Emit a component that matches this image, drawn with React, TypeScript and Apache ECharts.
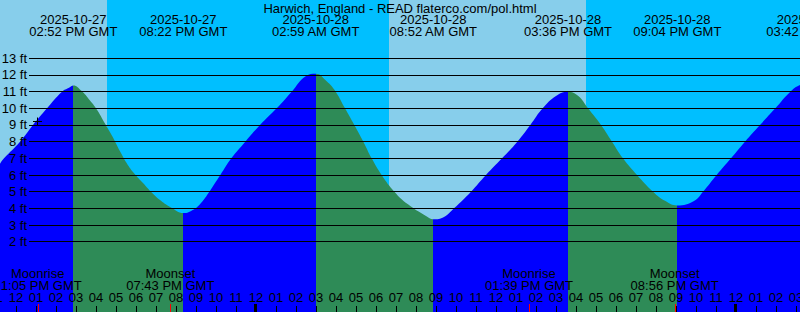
import React, { useEffect, useRef } from 'react';
import * as echarts from 'echarts';

const TITLE = 'Harwich, England - READ flaterco.com/pol.html';
const FONT = '"Liberation Sans", Arial, sans-serif';

// Tide curve (GMT, feet)
const curveTimes = [
  '2025-10-27 11:00', '2025-10-27 11:12', '2025-10-27 11:24', '2025-10-27 12:12', '2025-10-27 12:51',
  '2025-10-27 13:33', '2025-10-27 14:18', '2025-10-27 14:39', '2025-10-27 14:52', '2025-10-27 15:17',
  '2025-10-27 15:40', '2025-10-27 16:03', '2025-10-27 16:26', '2025-10-27 16:49', '2025-10-27 17:12',
  '2025-10-27 17:35', '2025-10-27 17:58', '2025-10-27 18:21', '2025-10-27 18:45', '2025-10-27 19:15',
  '2025-10-27 19:45', '2025-10-27 20:22', '2025-10-27 20:52', '2025-10-27 21:15', '2025-10-27 21:40',
  '2025-10-27 22:13', '2025-10-27 22:46', '2025-10-27 23:28', '2025-10-28 00:12', '2025-10-28 01:02',
  '2025-10-28 01:47', '2025-10-28 02:30', '2025-10-28 02:59', '2025-10-28 03:32', '2025-10-28 03:59',
  '2025-10-28 04:27', '2025-10-28 04:55', '2025-10-28 05:22', '2025-10-28 05:47', '2025-10-28 06:17',
  '2025-10-28 06:55', '2025-10-28 07:36', '2025-10-28 08:30', '2025-10-28 08:52', '2025-10-28 09:24',
  '2025-10-28 09:54', '2025-10-28 10:45', '2025-10-28 11:30', '2025-10-28 12:18', '2025-10-28 13:04',
  '2025-10-28 13:43', '2025-10-28 14:20', '2025-10-28 15:00', '2025-10-28 15:36', '2025-10-28 16:06',
  '2025-10-28 16:36', '2025-10-28 17:15', '2025-10-28 17:48', '2025-10-28 18:21', '2025-10-28 19:03',
  '2025-10-28 19:51', '2025-10-28 20:27', '2025-10-28 21:04', '2025-10-28 21:54', '2025-10-28 22:21',
  '2025-10-28 23:02', '2025-10-28 23:45', '2025-10-29 00:27', '2025-10-29 01:12', '2025-10-29 01:58',
  '2025-10-29 02:43', '2025-10-29 03:12', '2025-10-29 03:42',
];
const curveHeights = [
  6.35, 6.68, 7.0, 8.0, 9.0,
  10.0, 11.0, 11.24, 11.37, 11.04,
  10.52, 9.92, 9.12, 8.32, 7.42,
  6.62, 6.02, 5.52, 5.0, 4.45,
  4.05, 3.72, 3.92, 4.32, 5.0,
  6.0, 7.0, 8.0, 9.0, 10.0,
  11.0, 11.94, 12.07, 11.62, 11.0,
  10.0, 9.0, 8.0, 7.0, 6.0,
  5.0, 4.24, 3.54, 3.34, 3.48,
  4.0, 5.0, 6.0, 7.0, 8.0,
  9.0, 10.0, 10.74, 11.0, 10.75,
  10.0, 9.0, 8.0, 7.0, 6.0,
  5.0, 4.45, 4.17, 4.44, 5.0,
  6.0, 7.0, 8.0, 9.0, 10.0,
  11.0, 11.4, 11.55,
];

// High / low tide events
const tideTimes = [
  '2025-10-27 14:52', '2025-10-27 20:22', '2025-10-28 02:59', '2025-10-28 08:52',
  '2025-10-28 15:36', '2025-10-28 21:04', '2025-10-29 03:42',
];
const tideKinds = ['H', 'L', 'H', 'L', 'H', 'L', 'H'];

// Moon events
const moonTimes = ['2025-10-27 13:05', '2025-10-27 19:43', '2025-10-28 13:39', '2025-10-28 20:56'];
const moonKinds = ['Moonrise', 'Moonset', 'Moonrise', 'Moonset'];

// Sun transitions (day / night background)
const sunTimes = ['2025-10-27 16:33', '2025-10-28 06:39', '2025-10-28 16:30'];
const sunKinds = ['set', 'rise', 'set'];

// Day boundaries
const midnightTimes = ['2025-10-28 00:00', '2025-10-29 00:00'];

// "+" mark
const markTimes = ['2025-10-27 13:04'];
const markHeights = [9.26];

// Axis ranges (hours from 2025-10-27 12:00 GMT, feet)
const hourMin = -1;
const hourMax = 40;
const heightMin = -2.22;
const heightMax = 16.5;
const heightTickMin = 2;
const heightTickMax = 13;

const RISE = '#0000ff';
const FALL = '#2e8b57';
const DAY = '#87ceeb';
const NIGHT = '#00bfff';

const BASE = Date.UTC(2025, 9, 27, 12, 0, 0);
const parse = (s: string) => {
  const [d, t] = s.split(' ');
  const [Y, M, D] = d.split('-').map(Number);
  const [hh, mm] = t.split(':').map(Number);
  return { Y, M, D, hh, mm };
};
const toHours = (s: string) => {
  const p = parse(s);
  return (Date.UTC(p.Y, p.M - 1, p.D, p.hh, p.mm) - BASE) / 3600000;
};
const pad2 = (n: number) => String(n).padStart(2, '0');
const clock = (s: string) => {
  const p = parse(s);
  const h12 = p.hh % 12 === 0 ? 12 : p.hh % 12;
  return `${pad2(h12)}:${pad2(p.mm)} ${p.hh < 12 ? 'AM' : 'PM'} GMT`;
};
const hourLabel = (v: number) => {
  const r = Math.round(v);
  if (Math.abs(r - v) > 1e-6) return '';
  const hod = (((12 + r) % 24) + 24) % 24;
  const h12 = hod % 12 === 0 ? 12 : hod % 12;
  return pad2(h12);
};

export default function App() {
  const ref = useRef<HTMLDivElement>(null);
  useEffect(() => {
    document.body.style.margin = '0';
    if (!ref.current) return;
    const chart = echarts.init(ref.current, undefined, { renderer: 'svg' });

    const curve = curveTimes.map((t, i) => [toHours(t), curveHeights[i]]);
    const tideHours = tideTimes.map(toHours);
    const pieces: any[] = tideHours.map((h, i) => {
      const p: any = { lt: h, color: tideKinds[i] === 'H' ? RISE : FALL };
      if (i > 0) p.gte = tideHours[i - 1];
      return p;
    });
    const lastI = tideHours.length - 1;
    pieces.push({ gte: tideHours[lastI], color: tideKinds[lastI] === 'H' ? FALL : RISE });

    const sunHours = sunTimes.map(toHours);
    const edges = [hourMin, ...sunHours, hourMax];
    const bands: number[][] = [];
    const bandColors: string[] = [];
    for (let i = 0; i < edges.length - 1; i++) {
      bands.push([edges[i], edges[i + 1]]);
      const nextKind = i < sunKinds.length ? sunKinds[i] : sunKinds[i - 1] === 'set' ? 'rise' : 'set';
      bandColors.push(nextKind === 'set' ? DAY : NIGHT);
    }

    const hourTicks: number[][] = [];
    for (let h = hourMin; h <= hourMax; h++) hourTicks.push([h, heightMin]);

    const textStyle = (text: string, x: number, y: number) => ({
      text, x, y, align: 'center', verticalAlign: 'middle',
      fill: '#000', fontSize: 13, fontFamily: FONT,
    });

    const option: any = {
      animation: false,
      textStyle: { fontFamily: FONT },
      title: {
        text: TITLE, left: 'center', top: 2, padding: 0,
        textStyle: { fontSize: 13, fontWeight: 'normal', color: '#000', fontFamily: FONT },
      },
      grid: [
        { left: -4, right: -16, top: 0, bottom: 0, outerBoundsMode: 'none', containLabel: false },
        { left: 29, right: 0, top: 58.333, bottom: 70.333, outerBoundsMode: 'none', containLabel: false },
      ],
      xAxis: [
        {
          type: 'value', gridIndex: 0, min: hourMin, max: hourMax, interval: 1, z: 6,
          position: 'bottom',
          axisLine: { show: false, onZero: false }, splitLine: { show: false }, axisTick: { show: false },
          axisLabel: {
            inside: true, margin: 8, interval: 0, color: '#000', fontSize: 13, fontFamily: FONT,
            formatter: hourLabel, showMinLabel: true, showMaxLabel: false,
          },
        },
        {
          type: 'value', gridIndex: 1, min: 0, max: 1, show: false,
          axisLine: { show: false, onZero: false }, axisTick: { show: false }, axisLabel: { show: false },
        },
      ],
      yAxis: [
        {
          type: 'value', gridIndex: 0, min: heightMin, max: heightMax, show: false,
          axisLine: { show: false, onZero: false }, axisTick: { show: false }, axisLabel: { show: false },
          splitLine: { show: false },
        },
        {
          type: 'value', gridIndex: 1, min: heightTickMin, max: heightTickMax, interval: 1, z: 4,
          axisLine: { show: false, onZero: false }, axisTick: { show: false },
          splitLine: { show: true, lineStyle: { color: '#000', width: 1 } },
          axisLabel: { margin: 2, color: '#000', fontSize: 13, fontFamily: FONT, formatter: '{value} ft' },
        },
      ],
      visualMap: {
        type: 'piecewise', show: false, dimension: 0, seriesIndex: 1, pieces,
      },
      series: [
        {
          type: 'custom', xAxisIndex: 0, yAxisIndex: 0, z: 1, silent: true,
          data: bands,
          renderItem: (params: any, api: any) => {
            const x0 = api.coord([api.value(0), 0])[0];
            const x1 = api.coord([api.value(1), 0])[0];
            const cs = params.coordSys;
            return {
              type: 'rect',
              shape: { x: x0, y: cs.y, width: x1 - x0, height: cs.height },
              style: { fill: bandColors[params.dataIndex] },
            };
          },
        },
        {
          type: 'line', xAxisIndex: 0, yAxisIndex: 0, z: 2, silent: true,
          data: curve, smooth: 0.45, symbol: 'none',
          lineStyle: { width: 0 },
          areaStyle: { opacity: 1, origin: 'start' },
        },
        {
          type: 'custom', xAxisIndex: 0, yAxisIndex: 0, z: 7, silent: true,
          data: tideHours.map((h) => [h, 0]),
          renderItem: (params: any, api: any) => {
            const x = api.coord([api.value(0), 0])[0];
            const t = tideTimes[params.dataIndex];
            return {
              type: 'group',
              children: [
                { type: 'text', style: textStyle(t.slice(0, 10), x, 19.5) },
                { type: 'text', style: textStyle(clock(t), x, 31.3) },
              ],
            };
          },
        },
        {
          type: 'custom', xAxisIndex: 0, yAxisIndex: 0, z: 7, silent: true,
          data: hourTicks,
          renderItem: (params: any, api: any) => {
            const p = api.coord([api.value(0), api.value(1)]);
            const lx = Math.round(p[0]) + 0.5;
            const bottom = p[1];
            return {
              type: 'line', shape: { x1: lx, y1: bottom - 6, x2: lx, y2: bottom },
              style: { stroke: '#000', lineWidth: 1 },
            };
          },
        },
        {
          type: 'custom', xAxisIndex: 0, yAxisIndex: 0, z: 8, silent: true,
          data: moonTimes.map((t) => [toHours(t), heightMin]),
          renderItem: (params: any, api: any) => {
            const p = api.coord([api.value(0), api.value(1)]);
            const x = p[0];
            const bottom = p[1];
            const t = moonTimes[params.dataIndex];
            const lx = Math.round(x) + 0.5;
            return {
              type: 'group',
              children: [
                { type: 'text', style: textStyle(moonKinds[params.dataIndex], x, 273.8) },
                { type: 'text', style: textStyle(clock(t), x, 285.5) },
                { type: 'line', shape: { x1: lx, y1: bottom - 8, x2: lx, y2: bottom }, style: { stroke: '#ff0000', lineWidth: 1 } },
              ],
            };
          },
        },
        {
          type: 'custom', xAxisIndex: 0, yAxisIndex: 0, z: 8, silent: true,
          data: midnightTimes.map((t) => [toHours(t), heightMin]),
          renderItem: (params: any, api: any) => {
            const p = api.coord([api.value(0), api.value(1)]);
            const lx = Math.round(p[0]) - 0.5;
            const bottom = p[1];
            return {
              type: 'line', shape: { x1: lx, y1: bottom - 8, x2: lx, y2: bottom },
              style: { stroke: '#000', lineWidth: 3 },
            };
          },
        },
        {
          type: 'custom', xAxisIndex: 0, yAxisIndex: 0, z: 8, silent: true,
          data: markTimes.map((t, i) => [toHours(t), markHeights[i]]),
          renderItem: (params: any, api: any) => {
            const p = api.coord([api.value(0), api.value(1)]);
            const cx = Math.round(p[0]) + 0.5;
            const cy = Math.round(p[1]) + 0.5;
            return {
              type: 'group',
              children: [
                { type: 'line', shape: { x1: cx - 4.5, y1: cy, x2: cx + 4.5, y2: cy }, style: { stroke: '#000', lineWidth: 1 } },
                { type: 'line', shape: { x1: cx, y1: cy - 4, x2: cx, y2: cy + 4 }, style: { stroke: '#000', lineWidth: 1 } },
              ],
            };
          },
        },
      ],
    };
    chart.setOption(option);
    return () => chart.dispose();
  }, []);
  return <div ref={ref} style={{ width: 800, height: 312 }} />;
}
